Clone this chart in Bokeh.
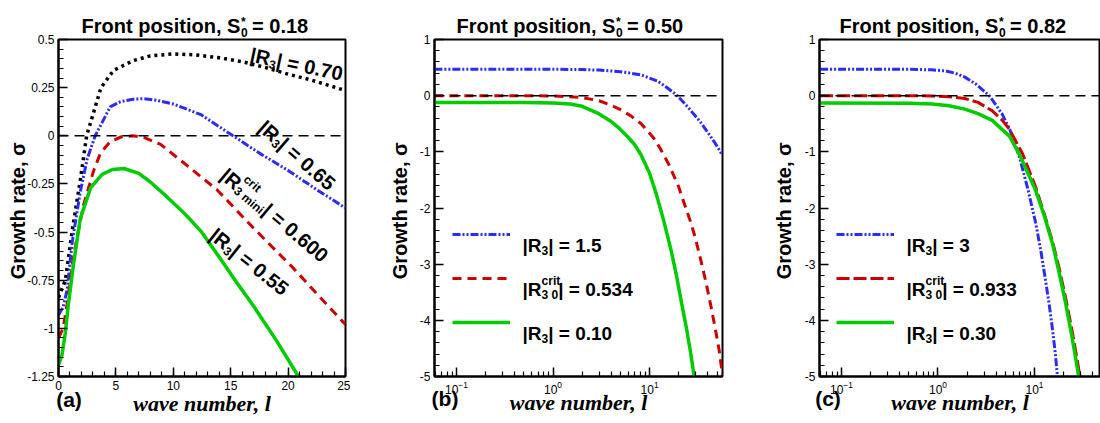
import math
from bokeh.plotting import figure
from bokeh.models import Label, Span, FixedTicker, Legend, LegendItem, LogTickFormatter, LinearAxis
from bokeh.layouts import row
from bokeh.embed import file_html
from bokeh.resources import INLINE

# ---------------- data ----------------
# Panel (a): S0* = 0.18
a_r070_l = [0, 0.6, 1.2, 1.9, 2.45, 3.1, 3.7, 4.8, 6.5, 8, 10, 12, 14, 16, 18, 20, 22, 25]
a_r070_s = [-0.84, -0.75, -0.49, -0.23, 0.0, 0.13, 0.25, 0.34, 0.39, 0.415, 0.425, 0.42, 0.405, 0.385, 0.355, 0.32, 0.29, 0.235]
a_r065_l = [0, 0.4, 0.75, 1.2, 1.9, 2.5, 3.2, 4.5, 5.4, 6.5, 7.4, 8.5, 10, 12.4, 15.2, 17.5, 20, 22.5, 25]
a_r065_s = [-0.93, -0.89, -0.8, -0.55, -0.29, -0.12, 0.0, 0.15, 0.177, 0.19, 0.193, 0.185, 0.165, 0.11, 0.0, -0.09, -0.18, -0.28, -0.375]
a_r060_l = [0, 0.4, 0.75, 1.2, 1.6, 2.2, 3.07, 3.66, 4.5, 5.5, 6.5, 7.5, 8.9, 10.9, 13.8, 17, 20.5, 22.8, 25]
a_r060_s = [-1.05, -1.0, -0.875, -0.67, -0.53, -0.355, -0.18, -0.09, -0.03, -0.005, 0.0, -0.01, -0.045, -0.14, -0.28, -0.48, -0.69, -0.84, -0.98]
a_r055_l = [0, 0.3, 0.6, 0.87, 1.3, 1.9, 2.8, 3.8, 4.7, 5.7, 7, 8, 9.5, 11, 12.4, 14, 15.5, 17, 19, 20.9]
a_r055_s = [-1.19, -1.14, -1.02, -0.87, -0.67, -0.43, -0.27, -0.2, -0.175, -0.17, -0.195, -0.24, -0.32, -0.405, -0.495, -0.63, -0.76, -0.885, -1.065, -1.25]

# Panel (b): S0* = 0.50
b_r150_l = [0.059, 0.5, 1, 2, 3, 4, 5, 6.4, 8.15, 12.1, 15, 18.8, 22, 26.9, 33, 40, 48, 57]
b_r150_s = [0.47, 0.47, 0.47, 0.465, 0.455, 0.44, 0.425, 0.4, 0.37, 0.26, 0.15, 0.02, -0.1, -0.27, -0.45, -0.65, -0.85, -1.06]
b_r0534_l = [0.059, 0.5, 1, 1.95, 3, 4, 5, 6.4, 8.2, 11.1, 13.1, 16, 19.8, 23, 26.9, 30, 34, 38.5, 43.4, 48, 52.6, 57]
b_r0534_s = [0.0, 0.0, -0.005, -0.03, -0.09, -0.17, -0.25, -0.36, -0.5, -0.76, -0.96, -1.24, -1.6, -1.93, -2.27, -2.55, -2.93, -3.33, -3.76, -4.15, -4.53, -4.98]
b_r010_l = [0.059, 0.5, 1, 1.5, 2, 2.9, 4, 4.7, 6, 7, 8.2, 10, 11.7, 14, 16.7, 19, 21.2, 24, 26.5, 29]
b_r010_s = [-0.12, -0.12, -0.13, -0.15, -0.19, -0.31, -0.46, -0.56, -0.74, -0.87, -1.06, -1.38, -1.74, -2.22, -2.75, -3.2, -3.64, -4.12, -4.55, -5.0]

# Panel (c): S0* = 0.82
c_r300_l = [0.06, 0.5, 0.85, 1.2, 1.5, 1.9, 2.5, 3.4, 4.6, 5.6, 7, 8.5, 10.3, 11.6, 13, 14.2, 15.4, 16.5, 17.3]
c_r300_s = [0.47, 0.47, 0.46, 0.44, 0.4, 0.33, 0.2, 0.0, -0.32, -0.62, -1.1, -1.65, -2.27, -2.75, -3.28, -3.72, -4.17, -4.62, -5.0]
c_r0933_l = [0.06, 0.5, 0.87, 1.3, 1.9, 2.6, 3.65, 4.6, 5.5, 7.5, 10.3, 12.7, 15.4, 18, 21, 24.5, 28, 29.5]
c_r0933_s = [0.0, 0.0, -0.005, -0.02, -0.05, -0.12, -0.27, -0.43, -0.6, -1.03, -1.63, -2.12, -2.6, -3.07, -3.6, -4.18, -4.75, -5.0]
c_r030_l = [0.06, 0.5, 0.87, 1.3, 1.9, 2.6, 3.65, 4.6, 5.5, 7, 10.3, 12.7, 15.4, 18, 21, 24.5, 28, 28.7]
c_r030_s = [-0.13, -0.135, -0.15, -0.18, -0.24, -0.32, -0.44, -0.6, -0.72, -1.05, -1.69, -2.15, -2.64, -3.15, -3.69, -4.3, -4.88, -5.0]

# tick labels
a_yticks = [0.5, 0.25, 0, -0.25, -0.5, -0.75, -1, -1.25]
a_ylabels = ["0.5", "0.25", "0", "-0.25", "-0.5", "-0.75", "-1", "-1.25"]
a_xticks = [0, 5, 10, 15, 20, 25]
a_xlabels = ["0", "5", "10", "15", "20", "25"]
bc_yticks = [1, 0, -1, -2, -3, -4, -5]
bc_ylabels = ["1", "0", "-1", "-2", "-3", "-4", "-5"]
log_xticks = [0.1, 1, 10]

titles = ["0.18", "0.50", "0.82"]
panel_tags = ["(a)", "(b)", "(c)"]
b_legend = ["1.5", "0.534", "0.10"]
c_legend = ["3", "0.933", "0.30"]
y_title = "Growth rate,  σ"
x_title = "wave number, l"

# ---------------- styles ----------------
BLUE = "#2b2bff"
RED = "#cc0000"
GREEN = "#00cc00"
SANS = "Liberation Sans"
SERIF = "Liberation Serif"

# page-pixel geometry of each frame (used only to place texts)
GA = dict(L=58, R=345, T=39, B=376, x0=0.0, x1=25.0, y0=-1.25, y1=0.5, log=False)
GB = dict(L=434, R=722, T=39, B=376, x0=0.0592, x1=57.0, y0=-5.0, y1=1.0, log=True)
GC = dict(L=819, R=1100, T=39, B=376, x0=0.0592, x1=48.3, y0=-5.0, y1=1.0, log=True)

W = {' ': 278, '|': 280, 'R': 722, '=': 584, '.': 278, 'c': 556, 'r': 389, 'i': 278,
     't': 333, 'm': 889, 'n': 611, '(': 333, ')': 333, 'a': 556, 'b': 611, 'F': 611,
     'o': 611, 'p': 611, 's': 556, ',': 278, 'S': 667, '*': 389}


def tw(s, size):
    return sum(W.get(ch, 556) for ch in s) / 1000.0 * size


def to_data(g, X, Y):
    fx = (X - g['L']) / (g['R'] - g['L'])
    if g['log']:
        lx0, lx1 = math.log10(g['x0']), math.log10(g['x1'])
        x = 10 ** (lx0 + fx * (lx1 - lx0))
    else:
        x = g['x0'] + fx * (g['x1'] - g['x0'])
    fy = (Y - g['T']) / (g['B'] - g['T'])
    y = g['y1'] - fy * (g['y1'] - g['y0'])
    return x, y


def rich(p, g, X, Y, pieces, angle_deg=0.0, font=SANS, style='bold'):
    cur = 0.0
    a = math.radians(angle_deg)
    ux, uy = math.cos(a), math.sin(a)
    vx, vy = math.sin(a), -math.cos(a)
    for t, s, r, adv in pieces:
        px = X + cur * ux + r * vx
        py = Y + cur * uy + r * vy
        x, y = to_data(g, px, py)
        p.add_layout(Label(x=x, y=y, text=t, text_font=font, text_font_style=style,
                           text_font_size=f"{s}px", text_color="black", angle=-a,
                           text_align='left', text_baseline='alphabetic'))
        if adv:
            cur += tw(t, s)


def text_axis(p, g, items, size, standoff, side='above', font=SANS, style='bold', no_ticks=True):
    """An axis without line or ticks whose tick labels carry free text pieces."""
    ticks, over = [], {}
    for X, text in items:
        x, _ = to_data(g, X, g['B'])
        x = round(x, 5)
        ticks.append(x)
        over[x] = text
    ax = LinearAxis(ticker=FixedTicker(ticks=ticks, minor_ticks=[]), major_label_overrides=over,
                    axis_line_color=None, major_tick_line_color=None, minor_tick_line_color=None,
                    major_label_text_font=font, major_label_text_font_style=style,
                    major_label_text_font_size=f"{size}px", major_label_text_color="black",
                    major_label_standoff=standoff)
    if no_ticks:
        ax.major_tick_in = 0
        ax.major_tick_out = 0
        ax.minor_tick_in = 0
        ax.minor_tick_out = 0
    p.add_layout(ax, side)
    return ax


def title_axes(p, g, X0, val):
    main = "Front position, S"
    w_main = tw(main, 20)
    s_end = X0 + w_main
    sub_c = s_end + 0.5 + tw("0", 12) / 2
    star_c = s_end + 0.5 + tw("*", 12) / 2
    eq_text = "= " + val
    eq_start = s_end + 0.5 + tw("0", 12) + 4.5
    eq_c = eq_start + tw(eq_text, 20) / 2
    text_axis(p, g, [(sub_c, "0")], 12, 3)                                   # subscript 0
    text_axis(p, g, [(X0 + w_main / 2, main), (eq_c, eq_text)], 20, -12)     # main title text
    text_axis(p, g, [(star_c, "*")], 12, -17)                                # superscript *


def make_fig(g, width, left, right, ylab_standoff, title_start, title_val, tag_text, tag_x,
             tag_standoff, xlab_standoff, xticker, xlabels=None, xformatter=None):
    kw = dict(width=width, height=423, min_border_left=left, min_border_right=right,
              min_border_top=39, min_border_bottom=47, toolbar_location=None,
              output_backend="svg", x_range=(g['x0'], g['x1']), y_range=(g['y0'], g['y1']),
              title=None)
    if g['log']:
        kw['x_axis_type'] = 'log'
    p = figure(**kw)
    p.xgrid.visible = False
    p.ygrid.visible = False
    p.outline_line_color = "black"
    p.outline_line_width = 2
    p.outline_line_alpha = 1
    p.background_fill_color = "white"
    p.border_fill_color = "white"
    mx = p.xaxis[0]
    my = p.yaxis[0]
    mx.ticker = xticker
    if xlabels is not None:
        mx.major_label_overrides = xlabels
    if xformatter is not None:
        mx.formatter = xformatter
    for ax in (mx, my):
        ax.major_tick_in = 9
        ax.major_tick_out = 0
        ax.minor_tick_in = 5
        ax.minor_tick_out = 0
        ax.axis_line_width = 2
        ax.axis_line_color = "black"
        ax.major_tick_line_width = 1.5
        ax.minor_tick_line_width = 1.2
        ax.major_tick_line_color = "black"
        ax.minor_tick_line_color = "black"
        ax.major_label_text_font = SANS
        ax.major_label_text_font_size = "12px"
        ax.major_label_text_color = "black"
        ax.major_label_standoff = 4
    my.axis_label = y_title
    my.axis_label_text_font = SANS
    my.axis_label_text_font_style = "bold"
    my.axis_label_text_font_size = "20px"
    my.axis_label_text_color = "black"
    my.axis_label_standoff = ylab_standoff

    title_axes(p, g, title_start, title_val)

    # second bottom axis: carries the panel tag (as a tick label) and the axis title
    ax2 = text_axis(p, g, [(tag_x, tag_text)], 21, tag_standoff, side='below', no_ticks=False)
    ax2.axis_label = x_title
    ax2.axis_label_text_font = SERIF
    ax2.axis_label_text_font_style = "bold italic"
    ax2.axis_label_text_font_size = "22px"
    ax2.axis_label_text_color = "black"
    ax2.axis_label_standoff = xlab_standoff

    p.add_layout(Span(location=0, dimension='width', line_color="black",
                      line_width=1.5, line_dash="10 6"))
    return p, my


# ---------------- panel (a) ----------------
pa, pa_y = make_fig(GA, 350, 58, 5, -5, 81, titles[0], panel_tags[0], 68.5, -11, -23,
                    FixedTicker(ticks=a_xticks, minor_ticks=list(range(0, 26))),
                    xlabels=dict(zip(a_xticks, a_xlabels)))
pa_y.ticker = FixedTicker(ticks=a_yticks, minor_ticks=[round(-1.25 + 0.05 * i, 2) for i in range(36)])
pa_y.major_label_overrides = dict(zip(a_yticks, a_ylabels))

pa.line(a_r070_l, a_r070_s, line_color="black", line_width=3.5, line_dash="3 4")
pa.line(a_r065_l, a_r065_s, line_color=BLUE, line_width=3, line_dash="8 2 2 2 2 2")
pa.line(a_r060_l, a_r060_s, line_color=RED, line_width=3, line_dash="9 6")
pa.line(a_r055_l, a_r055_s, line_color=GREEN, line_width=3.5)

rich(pa, GA, 250, 54, [("|R", 20, 0, True), ("3", 12, -5, True), ("| = 0.70", 20, 0, True)], angle_deg=12)
rich(pa, GA, 261, 124, [("|R", 20, 0, True), ("3", 12, -5, True), ("| = 0.65", 20, 0, True)], angle_deg=41)
rich(pa, GA, 223, 172, [("|R", 20, 0, True), ("crit", 12, 10, False), ("3 mini", 12, -5, True),
                        ("| = 0.600", 20, 0, True)], angle_deg=40)
rich(pa, GA, 212, 232, [("|R", 20, 0, True), ("3", 12, -5, True), ("| = 0.55", 20, 0, True)], angle_deg=38.5)


def log_panel(g, width, left, right, ystand, data, red_dash, legend_vals, legend_x, tag_x, title_start, tval, tagtext):
    minor = [m * 10 ** e for e in (-2, -1, 0, 1) for m in range(2, 10)]
    p, my = make_fig(g, width, left, right, ystand, title_start, tval, tagtext, tag_x, -16, -23,
                     FixedTicker(ticks=log_xticks, minor_ticks=minor), xformatter=LogTickFormatter())
    my.ticker = FixedTicker(ticks=bc_yticks, minor_ticks=[round(-5 + 0.2 * i, 1) for i in range(31)])
    my.major_label_overrides = dict(zip(bc_yticks, bc_ylabels))
    (l1, s1), (l2, s2), (l3, s3) = data
    r1 = p.line(l1, s1, line_color=BLUE, line_width=3, line_dash="8 2 2 2 2 2")
    r2 = p.line(l2, s2, line_color=RED, line_width=3, line_dash=red_dash)
    r3 = p.line(l3, s3, line_color=GREEN, line_width=3.5)
    leg = Legend(items=[LegendItem(label=" ", renderers=[r1]),
                        LegendItem(label=" ", renderers=[r2]),
                        LegendItem(label=" ", renderers=[r3])],
                 location=(legend_x - g['L'], g['B'] - 332), glyph_width=58, glyph_height=20,
                 spacing=24, padding=0, margin=0, border_line_alpha=0,
                 background_fill_alpha=0, label_text_font_size="1px", label_standoff=0,
                 label_height=20, label_width=1)
    p.add_layout(leg)
    tx = legend_x + 70
    rich(p, g, tx, 245, [("|R", 19, 0, True), ("3", 12, -5, True), ("| = " + legend_vals[0], 19, 0, True)])
    rich(p, g, tx, 289, [("|R", 19, 0, True), ("crit", 12, 9, False), ("3 0", 12, -5, True),
                         ("| = " + legend_vals[1], 19, 0, True)])
    rich(p, g, tx, 333, [("|R", 19, 0, True), ("3", 12, -5, True), ("| = " + legend_vals[2], 19, 0, True)])
    return p


pb = log_panel(GB, 377, 84, 5, 6, [(b_r150_l, b_r150_s), (b_r0534_l, b_r0534_s), (b_r010_l, b_r010_s)],
               "9 6", b_legend, 452, 444.5, 456, titles[1], panel_tags[1])
pc = log_panel(GC, 373, 92, 0, 7, [(c_r300_l, c_r300_s), (c_r0933_l, c_r0933_s), (c_r030_l, c_r030_s)],
               "13 4", c_legend, 836, 827.5, 839, titles[2], panel_tags[2])

layout = row(pa, pb, pc)
open("out.html", "w").write(file_html(layout, INLINE))
